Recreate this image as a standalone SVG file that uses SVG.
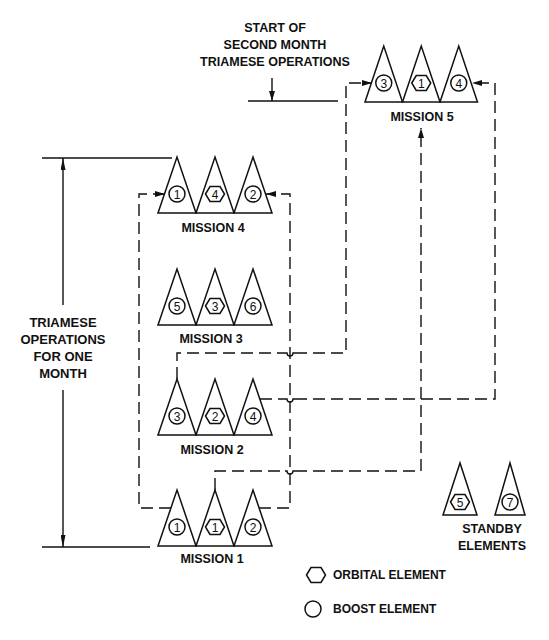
<svg xmlns="http://www.w3.org/2000/svg" width="549" height="640" viewBox="0 0 549 640">
<style>
.tri{fill:#fff;stroke:#111;stroke-width:1.5;stroke-linejoin:miter}
.el{fill:#fff;stroke:#111;stroke-width:1.5}
.num{font-family:"Liberation Sans",Arial,sans-serif;font-size:12px;text-anchor:middle;fill:#111}
.lbl{font-family:"Liberation Sans",Arial,sans-serif;font-size:12.5px;font-weight:bold;text-anchor:middle;fill:#111}
.lgd{font-family:"Liberation Sans",Arial,sans-serif;font-size:12px;font-weight:bold;fill:#111}
.dash{fill:none;stroke:#111;stroke-width:1.4;stroke-dasharray:12 6}
.solid{fill:none;stroke:#111;stroke-width:1.4}
</style>
<defs>
<marker id="ah" viewBox="0 0 10 6" refX="10" refY="3" markerWidth="10" markerHeight="6" markerUnits="userSpaceOnUse" orient="auto"><path d="M0,0 L10,3 L0,6 z" fill="#111"/></marker>
<marker id="dim" viewBox="0 0 12 5" refX="12" refY="2.5" markerWidth="12" markerHeight="5" markerUnits="userSpaceOnUse" orient="auto"><path d="M0,0 L12,2.5 L0,5 z" fill="#111"/></marker>
<path id="hex" d="M-9.5,0 L-5,-7.5 L5,-7.5 L9.5,0 L5,7.5 L-5,7.5 z"/>
</defs>

<g id="connectors">
<path class="dash" d="M171,508 H139 V194 H165" marker-end="url(#ah)"/>
<path class="dash" d="M259,508 H290 V194 H266" marker-end="url(#ah)"/>
<path class="dash" d="M215,490 V471 H285"/>
<path class="solid" d="M285,471 H287 a3,3 0 0 0 6,0 H295"/>
<path class="dash" d="M295,471 H421 V128" marker-end="url(#ah)"/>
<path class="dash" d="M177,379 V353 H285"/>
<path class="solid" d="M285,353 H287 a3,3 0 0 0 6,0 H295"/>
<path class="dash" d="M295,353 H346 V83 H372" marker-end="url(#ah)"/>
<path class="dash" d="M260,399 H285"/>
<path class="solid" d="M285,399 H287 a3,3 0 0 0 6,0 H295"/>
<path class="dash" d="M295,399 H495 V83 H472" marker-end="url(#ah)"/>
</g>

<g id="dimension">
<path class="solid" d="M42,158 H172"/>
<path class="solid" d="M42,547 H150"/>
<path class="solid" d="M63,305 V158" marker-end="url(#dim)"/>
<path class="solid" d="M63,390 V547" marker-end="url(#dim)"/>
<text class="lbl" style="font-size:13px" x="63" y="327">TRIAMESE</text>
<text class="lbl" style="font-size:13px" x="63" y="344">OPERATIONS</text>
<text class="lbl" style="font-size:13px" x="63" y="361">FOR ONE</text>
<text class="lbl" style="font-size:13px" x="63" y="378">MONTH</text>
</g>

<g id="start-second-month">
<path class="solid" d="M248,101 H338"/>
<path class="solid" d="M272,78 V101" marker-end="url(#ah)"/>
<text class="lbl" x="275" y="32">START OF</text>
<text class="lbl" x="275" y="49">SECOND MONTH</text>
<text class="lbl" x="275" y="66">TRIAMESE OPERATIONS</text>
</g>

<g id="mission1">
<polygon class="tri" points="158,546 177,490 196,546"/>
<polygon class="tri" points="196,546 215,490 234,546"/>
<polygon class="tri" points="234,546 253,490 272,546"/>
<circle class="el" cx="177" cy="527" r="8"/><text class="num" x="177" y="531.5">1</text>
<use href="#hex" x="215" y="527" class="el"/><text class="num" x="215" y="531.5">1</text>
<circle class="el" cx="253" cy="527" r="8"/><text class="num" x="253" y="531.5">2</text>
<text class="lbl" x="212" y="563">MISSION 1</text>
</g>

<g id="mission2">
<polygon class="tri" points="158,435 177,379 196,435"/>
<polygon class="tri" points="196,435 215,379 234,435"/>
<polygon class="tri" points="234,435 253,379 272,435"/>
<circle class="el" cx="177" cy="416" r="8"/><text class="num" x="177" y="420.5">3</text>
<use href="#hex" x="215" y="416" class="el"/><text class="num" x="215" y="420.5">2</text>
<circle class="el" cx="253" cy="416" r="8"/><text class="num" x="253" y="420.5">4</text>
<text class="lbl" x="212" y="454">MISSION 2</text>
</g>

<g id="mission3">
<polygon class="tri" points="158,325 177,269 196,325"/>
<polygon class="tri" points="196,325 215,269 234,325"/>
<polygon class="tri" points="234,325 253,269 272,325"/>
<circle class="el" cx="177" cy="306" r="8"/><text class="num" x="177" y="310.5">5</text>
<use href="#hex" x="215" y="306" class="el"/><text class="num" x="215" y="310.5">3</text>
<circle class="el" cx="253" cy="306" r="8"/><text class="num" x="253" y="310.5">6</text>
<text class="lbl" x="211" y="343">MISSION 3</text>
</g>

<g id="mission4">
<polygon class="tri" points="158,213 177,157 196,213"/>
<polygon class="tri" points="196,213 215,157 234,213"/>
<polygon class="tri" points="234,213 253,157 272,213"/>
<circle class="el" cx="177" cy="194" r="8"/><text class="num" x="177" y="198.5">1</text>
<use href="#hex" x="215" y="194" class="el"/><text class="num" x="215" y="198.5">4</text>
<circle class="el" cx="253" cy="194" r="8"/><text class="num" x="253" y="198.5">2</text>
<text class="lbl" x="213" y="232">MISSION 4</text>
</g>

<g id="mission5">
<polygon class="tri" points="365,102 383.75,46 402.5,102"/>
<polygon class="tri" points="402.5,102 421.25,46 440,102"/>
<polygon class="tri" points="440,102 458.75,46 477.5,102"/>
<circle class="el" cx="383.75" cy="83" r="8"/><text class="num" x="383.75" y="87.5">3</text>
<use href="#hex" x="421.25" y="83" class="el"/><text class="num" x="421.25" y="87.5">1</text>
<circle class="el" cx="458.75" cy="83" r="8"/><text class="num" x="458.75" y="87.5">4</text>
<text class="lbl" x="422" y="121">MISSION 5</text>
</g>

<g id="standby">
<polygon class="tri" points="443,515 460,463 477,515"/>
<polygon class="tri" points="495,515 510,463 525,515"/>
<use href="#hex" x="460" y="502" class="el"/><text class="num" x="460" y="506.5">5</text>
<circle class="el" cx="510" cy="502" r="8"/><text class="num" x="510" y="506.5">7</text>
<text class="lbl" x="492" y="533">STANDBY</text>
<text class="lbl" x="492" y="550">ELEMENTS</text>
</g>

<g id="legend">
<use href="#hex" x="316" y="575" class="el"/>
<text class="lgd" x="333" y="579">ORBITAL ELEMENT</text>
<circle class="el" cx="313" cy="609" r="8"/>
<text class="lgd" x="333" y="613">BOOST ELEMENT</text>
</g>
</svg>
